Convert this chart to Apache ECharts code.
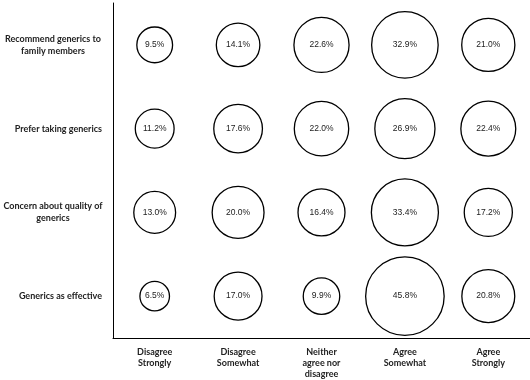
<!DOCTYPE html>
<html><head><meta charset="utf-8">
<script src="https://cdn.jsdelivr.net/npm/echarts@6/dist/echarts.min.js"></script>
<style>html,body{margin:0;padding:0;background:#fff}#c{width:530px;height:380px}</style>
</head><body><div id="c"></div>
<script>
const xCategories = ["Disagree\nStrongly", "Disagree\nSomewhat", "Neither\nagree nor\ndisagree", "Agree\nSomewhat", "Agree\nStrongly"];
const yCategories = ["Recommend generics to\nfamily members", "Prefer taking generics", "Concern about quality of\ngenerics", "Generics as effective"];
const recommendValues = [9.5, 14.1, 22.6, 32.9, 21.0];
const preferValues = [11.2, 17.6, 22.0, 26.9, 22.4];
const concernValues = [13.0, 20.0, 16.4, 33.4, 17.2];
const effectiveValues = [6.5, 17.0, 9.9, 45.8, 20.8];
const rows = [recommendValues, preferValues, concernValues, effectiveValues];

const data = [];
rows.forEach((vals, yi) => vals.forEach((v, xi) => data.push([xi, yi, v])));

const chart = echarts.init(document.getElementById('c'));
const labelFont = 'Lato, "Open Sans", sans-serif';
chart.setOption({
  animation: false,
  grid: { left: 113, right: 0, top: 3, bottom: 42 },
  xAxis: {
    type: 'category', data: xCategories, boundaryGap: true,
    axisLine: { lineStyle: { color: '#000', width: 1 } },
    axisTick: { alignWithLabel: true, length: 4, lineStyle: { color: '#000' } },
    axisLabel: { margin: 9, color: '#222', fontFamily: labelFont, fontWeight: 'bold', fontSize: 9, lineHeight: 11, interval: 0 },
    splitLine: { show: false }
  },
  yAxis: {
    type: 'category', data: yCategories, inverse: true, boundaryGap: true,
    axisLine: { lineStyle: { color: '#000', width: 1 } },
    axisTick: { length: 4, lineStyle: { color: '#000' } },
    axisLabel: {
      margin: 11, color: '#222', fontFamily: labelFont, fontWeight: 'bold', fontSize: 9, lineHeight: 12, interval: 0,
      formatter: function (s) {
        if (s.indexOf('\n') < 0) return s;
        return s.split('\n').map(l => '{c|' + l + '}').join('\n');
      },
      rich: { c: { width: 98, align: 'center', fontFamily: labelFont, fontWeight: 'bold', fontSize: 9, lineHeight: 12, color: '#222' } }
    },
    splitLine: { show: false }
  },
  series: [{
    type: 'scatter',
    data: data,
    symbol: 'circle',
    symbolSize: function (d) { return 11.6 * Math.sqrt(d[2]); },
    itemStyle: { color: '#fff', borderColor: '#000', borderWidth: 1.3, opacity: 1 },
    label: {
      show: true, position: 'inside', color: '#222',
      fontFamily: '"Liberation Sans", Arial, sans-serif', fontSize: 8.5,
      formatter: function (p) { return p.value[2].toFixed(1) + '%'; }
    },
    emphasis: { disabled: true }
  }]
});
</script></body></html>
